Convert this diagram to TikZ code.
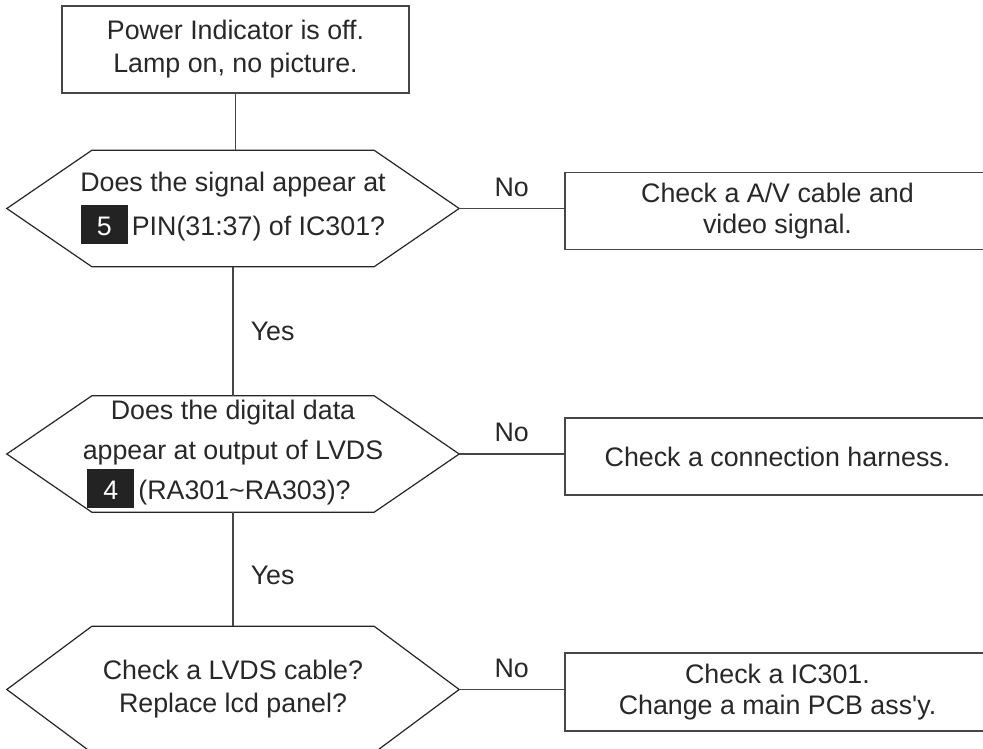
\documentclass[tikz,border=0pt]{standalone}
\usepackage{fontspec}
\setmainfont{Liberation Sans}
\definecolor{ink}{RGB}{40,40,40}
\definecolor{edge}{RGB}{70,70,70}
\definecolor{badgecol}{RGB}{35,35,35}
\newcommand\numbadge[1]{\raisebox{-8.5pt}{\textcolor{badgecol}{\rule{47pt}{39pt}}}\hspace{-47pt}\makebox[47pt]{\textcolor{white}{#1}}\hspace{4pt}}
\tikzset{
  txt/.style={font=\fontsize{26.8}{#1}\selectfont, text=ink, inner sep=0pt, align=center},
  boxnode/.style={draw=edge, line width=1.6pt, rectangle, inner sep=0pt, text=ink, align=center},
  hexnode/.style={rectangle, inner sep=0pt, text=ink, align=center},
  hexline/.style={draw=black!85, line width=1.2pt, line join=miter},
  conn/.style={draw=edge, line width=1.5pt},
  lbl/.style={font=\fontsize{26.8}{32}\selectfont, text=ink, inner sep=0pt}
}
\begin{document}
\begin{tikzpicture}[x=1pt,y=-1pt]
\useasboundingbox (0,0) rectangle (983,749);
\fill[white] (0,0) rectangle (983,749);

% start box
\node[boxnode, txt=33, minimum width=347pt, minimum height=87pt] (top) at (235.5,49.5)
  {Power Indicator is off.\\Lamp on, no picture.};

% decision hexagons
\node[hexnode, txt=44, minimum width=452pt, minimum height=116pt] (h1) at (233,208.5)
  {Does the signal appear at\\\numbadge{5}PIN(31:37) of IC301?};
\node[hexnode, txt=40, minimum width=452pt, minimum height=116pt] (h2) at (233,454)
  {Does the digital data\\appear at output of LVDS\\\numbadge{4}(RA301\textasciitilde RA303)?\hspace*{28pt}};
\node[hexnode, txt=33, minimum width=452pt, minimum height=126pt] (h3) at (233,689.5)
  {Check a LVDS cable?\\Replace lcd panel?};

\foreach \n in {h1,h2,h3}
  \draw[hexline] (\n.west) -- ([xshift=85pt]\n.north west) -- ([xshift=-85pt]\n.north east)
    -- (\n.east) -- ([xshift=-85pt]\n.south east) -- ([xshift=85pt]\n.south west) -- cycle;

% action boxes
\node[boxnode, txt=31, minimum width=425pt, minimum height=77pt] (b1) at (777.5,211)
  {Check a A/V cable and\\video signal.};
\node[boxnode, txt=31, minimum width=425pt, minimum height=77pt] (b2) at (777.5,456.5)
  {Check a connection harness.};
\node[boxnode, txt=31, minimum width=425pt, minimum height=78pt] (b3) at (777.5,692)
  {Check a IC301.\\Change a main PCB ass\textquotesingle y.};

% connectors
\draw[conn] (top.south) -- (top.south |- h1.north);
\draw[conn] (h1.south) -- node[lbl, pos=0.5, anchor=west, xshift=17pt] {Yes} (h2.north);
\draw[conn] (h2.south) -- node[lbl, pos=0.55, anchor=west, xshift=17pt] {Yes} (h3.north);
\draw[conn] (h1.east) -- node[lbl, midway, anchor=south, yshift=11pt] {No} (h1.east -| b1.west);
\draw[conn] (h2.east) -- node[lbl, midway, anchor=south, yshift=11pt] {No} (h2.east -| b2.west);
\draw[conn] (h3.east) -- node[lbl, midway, anchor=south, yshift=11pt] {No} (h3.east -| b3.west);
\end{tikzpicture}
\end{document}
